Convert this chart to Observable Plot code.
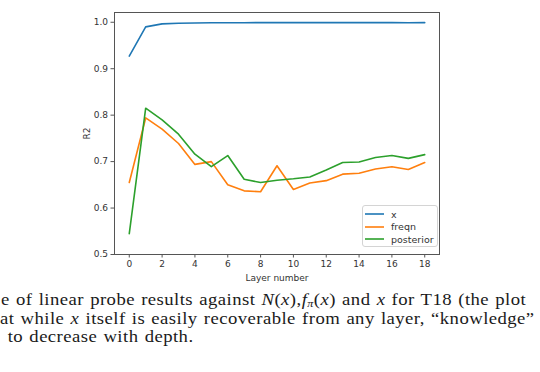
<!DOCTYPE html>
<html><head><meta charset="utf-8">
<script src="https://cdn.jsdelivr.net/npm/d3@7"></script>
<script src="https://cdn.jsdelivr.net/npm/@observablehq/plot@0.6"></script>
<style>
body{margin:0;background:#fff;}
#wrap{position:relative;width:540px;height:372px;overflow:hidden;background:#fff;}
#legend{position:absolute;left:362px;top:205px;width:76px;height:42px;border:1px solid #d4d4d4;border-radius:3px;background:rgba(255,255,255,0.85);font:9.5px "DejaVu Sans",sans-serif;color:#333;box-sizing:border-box;padding-top:2px;}
.li{display:flex;align-items:center;height:12.5px;}
.li svg{margin-left:2px;margin-right:7px;}
#capclip{position:absolute;left:0;top:291px;width:540px;height:81px;overflow:hidden;}
#caption{transform:scaleX(1.1);transform-origin:0 0;font-family:"Liberation Serif",serif;font-size:17px;letter-spacing:0.4px;word-spacing:1px;color:#1a1a1a;}
.cl{white-space:nowrap;height:18.5px;line-height:18.5px;}
.sb{font-size:11px;line-height:0;vertical-align:-2px;}
</style></head>
<body><div id="wrap"><div id="chart"></div><div id="legend"></div>
<div id="capclip"><div id="caption"></div></div></div>
<script>
const layers = [0,1,2,3,4,5,6,7,8,9,10,11,12,13,14,15,16,17,18];
const xR2 = [0.927,0.990,0.9965,0.998,0.9985,0.9988,0.999,0.999,0.9992,0.9992,0.9992,0.9992,0.9992,0.9992,0.9992,0.9992,0.9992,0.9990,0.9992];
const freqn = [0.655,0.794,0.770,0.739,0.694,0.700,0.650,0.637,0.635,0.691,0.640,0.654,0.659,0.673,0.675,0.684,0.689,0.683,0.698];
const posterior = [0.545,0.815,0.790,0.759,0.716,0.689,0.713,0.662,0.655,0.660,0.663,0.667,0.682,0.698,0.699,0.709,0.713,0.707,0.715];
const seriesNames = ["x","freqn","posterior"];
const seriesColors = ["#1f77b4","#ff7f0e","#2ca02c"];
const xTicks = [0,2,4,6,8,10,12,14,16,18];
const yTicks = [0.5,0.6,0.7,0.8,0.9,1.0];
const captionLines = [
  {indent: 1, html: "e of linear probe results against <i>N</i>(<i>x</i>),<i>f</i><span class='sb'><i>π</i></span>(<i>x</i>) and <i>x</i> for T18 (the plot"},
  {indent: 0, html: "at while <i>x</i> itself is easily recoverable from any layer, “knowledge” about"},
  {indent: 7, html: "to decrease with depth."}
];

const table = [];
const seriesValues = [xR2, freqn, posterior];
seriesNames.forEach((s, i) => layers.forEach((l, j) => table.push({layer: l, value: seriesValues[i][j], series: s})));

const font = {fontFamily: "DejaVu Sans", fontSize: 9, fill: "#333"};
const chart = Plot.plot({
  width: 540, height: 285,
  marginLeft: 114, marginRight: 101, marginTop: 12, marginBottom: 31,
  style: {fontFamily: "DejaVu Sans", fontSize: "9px", color: "#333", background: "#fff"},
  x: {domain: [-0.9, 18.9]},
  y: {domain: [0.5, 1.021]},
  color: {domain: seriesNames, range: seriesColors},
  marks: [
    Plot.lineY(table, {x: "layer", y: "value", stroke: "series", strokeWidth: 1.6, z: "series"}),
    Plot.frame({stroke: "#555", strokeWidth: 1}),
    Plot.axisX({ticks: xTicks, tickSize: 3.5, tickPadding: 3, stroke: "#555", label: "Layer number", labelAnchor: "center", labelArrow: "none", labelOffset: 26, ...font}),
    Plot.axisY({ticks: yTicks, tickFormat: d3.format(".1f"), tickSize: 3.5, tickPadding: 3, stroke: "#555", label: "R2", labelAnchor: "center", labelArrow: "none", labelOffset: 31, ...font})
  ]
});
document.getElementById("chart").appendChild(chart);

const leg = document.getElementById("legend");
seriesNames.forEach((s, i) => {
  const d = document.createElement("div");
  d.className = "li";
  d.innerHTML = `<svg width="19" height="4"><line x1="0" x2="19" y1="2" y2="2" stroke="${seriesColors[i]}" stroke-width="1.6"/></svg><span>${s}</span>`;
  leg.appendChild(d);
});
const cap = document.getElementById("caption");
captionLines.forEach(c => {
  const d = document.createElement("div");
  d.className = "cl";
  d.style.marginLeft = c.indent + "px";
  d.innerHTML = c.html;
  cap.appendChild(d);
});
</script></body></html>
